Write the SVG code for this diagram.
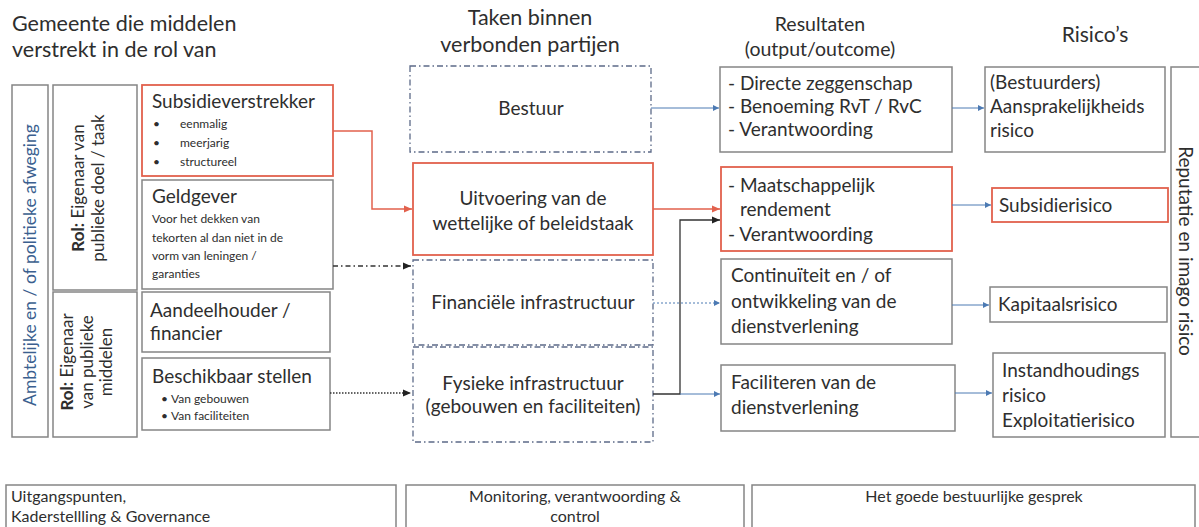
<svg xmlns="http://www.w3.org/2000/svg" width="1199" height="527" viewBox="0 0 1199 527">
<style>
text{font-family:Lato,"Open Sans","Liberation Sans",sans-serif;fill:#2e2e2e}
.hd{font-size:21.5px}
.box{fill:#fff;stroke:#858585;stroke-width:1.5}
.red{fill:#fff;stroke:#e2614d;stroke-width:1.8}
.dash{fill:#fff;stroke:#5c6a88;stroke-width:1.3;stroke-dasharray:6 3 1.5 3}
.t19{font-size:19px}
.ft{font-size:16px}
.sm{font-size:12px}
.mid{text-anchor:middle}
.b{font-weight:bold}
.blue{fill:#3b5f8f}
.cb{fill:none;stroke:#4c7ab3;stroke-width:1}
.cr{fill:none;stroke:#e2614d;stroke-width:1.5}
.ck{fill:none;stroke:#333;stroke-width:1.3}
</style>
<defs>
<marker id="ab" markerWidth="8" markerHeight="8" refX="6" refY="4" orient="auto" markerUnits="userSpaceOnUse"><path d="M0,1 L6,4 L0,7 Z" fill="#4c7ab3"/></marker>
<marker id="ar" markerWidth="10" markerHeight="10" refX="8" refY="5" orient="auto" markerUnits="userSpaceOnUse"><path d="M0,1.5 L8,5 L0,8.5 Z" fill="#e2614d"/></marker>
<marker id="ak" markerWidth="10" markerHeight="10" refX="8" refY="5" orient="auto" markerUnits="userSpaceOnUse"><path d="M0,1.5 L8,5 L0,8.5 Z" fill="#222"/></marker>
</defs>

<g id="headers">
<text class="hd" x="12" y="31">Gemeente die middelen</text>
<text class="hd" x="12" y="57">verstrekt in de rol van</text>
<text class="hd mid" x="530" y="25">Taken binnen</text>
<text class="hd mid" x="530" y="52">verbonden partijen</text>
<text class="mid" x="820" y="31" font-size="19.5">Resultaten</text>
<text class="mid" x="820" y="56" font-size="19.5">(output/outcome)</text>
<text class="mid" x="1095" y="42" font-size="21">Risico’s</text>
</g>

<g id="afweging">
<rect class="box" x="12" y="85" width="36" height="352"/>
<text class="blue mid" font-size="17.5" transform="translate(36,265) rotate(-90)">Ambtelijke en / of politieke afweging</text>
</g>
<g id="rol-doel">
<rect class="box" x="53" y="85" width="84" height="205"/>
<text class="mid" font-size="17" transform="translate(84,188) rotate(-90)"><tspan class="b">Rol:</tspan> Eigenaar van</text>
<text class="mid" font-size="17" transform="translate(104,188) rotate(-90)">publieke doel / taak</text>
</g>
<g id="rol-middelen">
<rect class="box" x="53" y="292" width="84" height="145"/>
<text class="mid" font-size="17" transform="translate(73,362) rotate(-90)"><tspan class="b">Rol:</tspan> Eigenaar</text>
<text class="mid" font-size="17" transform="translate(93,362) rotate(-90)">van publieke</text>
<text class="mid" font-size="17" transform="translate(112,362) rotate(-90)">middelen</text>
</g>

<g id="subsidieverstrekker">
<rect class="red" x="142" y="85" width="191" height="91"/>
<text class="t19" x="152" y="108">Subsidieverstrekker</text>
<text class="sm" x="153" y="128">•</text><text class="sm" x="180" y="128">eenmalig</text>
<text class="sm" x="153" y="147">•</text><text class="sm" x="180" y="147">meerjarig</text>
<text class="sm" x="153" y="166">•</text><text class="sm" x="180" y="166">structureel</text>
</g>
<g id="geldgever">
<rect class="box" x="142" y="180" width="191" height="109"/>
<text class="t19" x="152" y="203">Geldgever</text>
<text class="sm" x="152" y="223">Voor het dekken van</text>
<text class="sm" x="152" y="242">tekorten al dan niet in de</text>
<text class="sm" x="152" y="260">vorm van leningen /</text>
<text class="sm" x="152" y="278">garanties</text>
</g>
<g id="aandeelhouder">
<rect class="box" x="142" y="292" width="188" height="60"/>
<text class="t19" x="150" y="317">Aandeelhouder /</text>
<text class="t19" x="150" y="340">financier</text>
</g>
<g id="beschikbaar">
<rect class="box" x="142" y="358" width="188" height="72"/>
<text class="t19" x="152" y="383">Beschikbaar stellen</text>
<text class="sm" x="161" y="403">•</text><text class="sm" x="171" y="403">Van gebouwen</text>
<text class="sm" x="161" y="420">•</text><text class="sm" x="171" y="420">Van faciliteiten</text>
</g>

<g id="bestuur">
<rect class="dash" x="410" y="66" width="241" height="86"/>
<text class="t19 mid" x="531" y="115">Bestuur</text>
</g>
<g id="uitvoering">
<rect class="red" x="413" y="163" width="240" height="92"/>
<text class="t19 mid" x="533" y="205">Uitvoering van de</text>
<text class="t19 mid" x="533" y="230">wettelijke of beleidstaak</text>
</g>
<g id="financiele">
<rect class="dash" x="413" y="260" width="240" height="85"/>
<text class="t19 mid" x="533" y="309">Financiële infrastructuur</text>
</g>
<g id="fysieke">
<rect class="dash" x="413" y="347" width="240" height="95"/>
<text class="t19 mid" x="533" y="390">Fysieke infrastructuur</text>
<text class="t19 mid" x="533" y="413">(gebouwen en faciliteiten)</text>
</g>

<g id="res-bestuur">
<rect class="box" x="720" y="67" width="232" height="85"/>
<text class="t19" x="728" y="90">- Directe zeggenschap</text>
<text class="t19" x="728" y="113">- Benoeming RvT / RvC</text>
<text class="t19" x="728" y="136">- Verantwoording</text>
</g>
<g id="res-maatschappelijk">
<rect class="red" x="721" y="167" width="231" height="84"/>
<text class="t19" x="728" y="192">- Maatschappelijk</text>
<text class="t19" x="740" y="216">rendement</text>
<text class="t19" x="728" y="241">- Verantwoording</text>
</g>
<g id="res-continuiteit">
<rect class="box" x="721" y="259" width="231" height="85"/>
<text class="t19" x="731" y="282">Continuïteit en / of</text>
<text class="t19" x="731" y="308">ontwikkeling  van de</text>
<text class="t19" x="731" y="333">dienstverlening</text>
</g>
<g id="res-faciliteren">
<rect class="box" x="721" y="365" width="234" height="66"/>
<text class="t19" x="731" y="389">Faciliteren van de</text>
<text class="t19" x="731" y="414">dienstverlening</text>
</g>

<g id="risk-bestuurders">
<rect class="box" x="985" y="67" width="180" height="85"/>
<text class="t19" x="990" y="89">(Bestuurders)</text>
<text class="t19" x="990" y="113">Aansprakelijkheids</text>
<text class="t19" x="990" y="137">risico</text>
</g>
<g id="risk-subsidie">
<rect class="red" x="992" y="188" width="176" height="34"/>
<text class="t19" x="999" y="212">Subsidierisico</text>
</g>
<g id="risk-kapitaal">
<rect class="box" x="990" y="287" width="177" height="35"/>
<text class="t19" x="998" y="311">Kapitaalsrisico</text>
</g>
<g id="risk-instand">
<rect class="box" x="993" y="353" width="172" height="84"/>
<text class="t19" x="1002" y="377">Instandhoudings</text>
<text class="t19" x="1002" y="402">risico</text>
<text class="t19" x="1002" y="427">Exploitatierisico</text>
</g>
<g id="reputatie">
<rect class="box" x="1171" y="67" width="30" height="370"/>
<text class="mid" font-size="19" transform="translate(1179,251) rotate(90)">Reputatie en imago risico</text>
</g>

<g id="footer-uitgangspunten">
<rect class="box" x="6" y="485" width="390" height="50"/>
<text class="ft" x="11" y="502">Uitgangspunten,</text>
<text class="ft" x="11" y="522">Kaderstellling &amp; Governance</text>
</g>
<g id="footer-monitoring">
<rect class="box" x="406" y="485" width="338" height="50"/>
<text class="ft mid" x="575" y="502">Monitoring, verantwoording &amp;</text>
<text class="ft mid" x="575" y="522">control</text>
</g>
<g id="footer-gesprek">
<rect class="box" x="752" y="485" width="443" height="50"/>
<text class="ft mid" x="974" y="502">Het goede bestuurlijke gesprek</text>
</g>

<g id="connectors">
<path class="cb" d="M651 108 H719" marker-end="url(#ab)"/>
<path class="cb" d="M952 108 H984" marker-end="url(#ab)"/>
<path class="cr" d="M333 131 H372 V209 H412" marker-end="url(#ar)"/>
<path class="cr" d="M653 209 H720" marker-end="url(#ar)"/>
<path class="ck" d="M333 266 H411" stroke-dasharray="5 3 1.5 3" marker-end="url(#ak)"/>
<path class="ck" d="M330 393 H411" stroke-dasharray="1.5 1.5" stroke-width="1" marker-end="url(#ak)"/>
<path class="cb" d="M653 303 H720" stroke-dasharray="2 2" marker-end="url(#ab)"/>
<path class="ck" d="M653 394 H680 V220 H720" marker-end="url(#ak)"/>
<path class="cb" d="M680 394 H720" marker-end="url(#ab)"/>
<path class="cb" d="M952 205 H991" marker-end="url(#ab)"/>
<path class="cb" d="M952 305 H989" marker-end="url(#ab)"/>
<path class="cb" d="M955 393 H992" marker-end="url(#ab)"/>
</g>
</svg>
